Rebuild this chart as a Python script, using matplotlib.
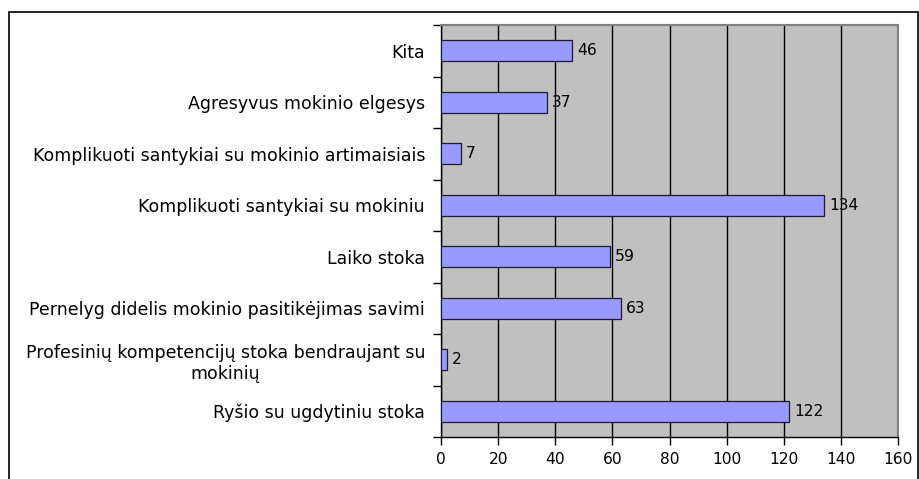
import matplotlib

matplotlib.use("Agg")
import matplotlib.pyplot as plt
from matplotlib.patches import Rectangle

# categories listed bottom to top (as drawn on the y axis)
categories = [
    "Ryšio su ugdytiniu stoka",
    "Profesinių kompetencijų stoka bendraujant su\nmokinių",
    "Pernelyg didelis mokinio pasitikėjimas savimi",
    "Laiko stoka",
    "Komplikuoti santykiai su mokiniu",
    "Komplikuoti santykiai su mokinio artimaisiais",
    "Agresyvus mokinio elgesys",
    "Kita",
]
counts = [122, 2, 63, 59, 134, 7, 37, 46]
x_ticks = [0, 20, 40, 60, 80, 100, 120, 140, 160]

# the reference text is wide for its height, DejaVu gets closest
plt.rcParams["font.family"] = ["DejaVu Sans"]
FS_LABEL = 12.5
FS_NUM = 11.2

fig = plt.figure(figsize=(9.19, 4.79), dpi=100)
W, H = 919, 479
ax = fig.add_axes([441 / W, 1 - 437 / H, (898 - 441) / W, (437 - 25) / H])

# outer chart frame (runs off the bottom of the image)
fig.patches.append(Rectangle((9 / W, -0.05), (918 - 9) / W, 1 - 12 / H + 0.05,
                             transform=fig.transFigure, fill=False,
                             edgecolor="black", linewidth=1.2))

ax.set_facecolor("#C0C0C0")
pos = list(range(len(categories)))
ax.barh(pos, counts, height=0.41, color="#9999FF", edgecolor="#1a1a33",
        linewidth=0.9, zorder=3)
for y, v in zip(pos, counts):
    ax.text(v + 1.8, y, str(v), va="center", ha="left", fontsize=FS_NUM, zorder=4)

ax.set_xlim(0, 160)
ax.set_ylim(-0.5, len(categories) - 0.5)
ax.set_xticks(x_ticks)
ax.xaxis.grid(True, color="black", linewidth=1.0, zorder=1)
ax.set_axisbelow(True)

ax.set_yticks(pos)
ax.set_yticklabels(categories, fontsize=FS_LABEL, multialignment="center")
ax.tick_params(axis="y", length=0, pad=11.5)
ax.set_yticks([p - 0.5 for p in pos] + [len(pos) - 0.5], minor=True)
ax.tick_params(axis="y", which="minor", length=6, width=1.0, direction="out")
ax.tick_params(axis="x", length=6, width=1.0, direction="out", labelsize=FS_NUM, pad=5)

for side in ["top", "right"]:
    ax.spines[side].set_color("#808080")
    ax.spines[side].set_linewidth(1.5)
for side in ["left", "bottom"]:
    ax.spines[side].set_color("black")
    ax.spines[side].set_linewidth(1.0)

fig.savefig("out.png", dpi=100)
